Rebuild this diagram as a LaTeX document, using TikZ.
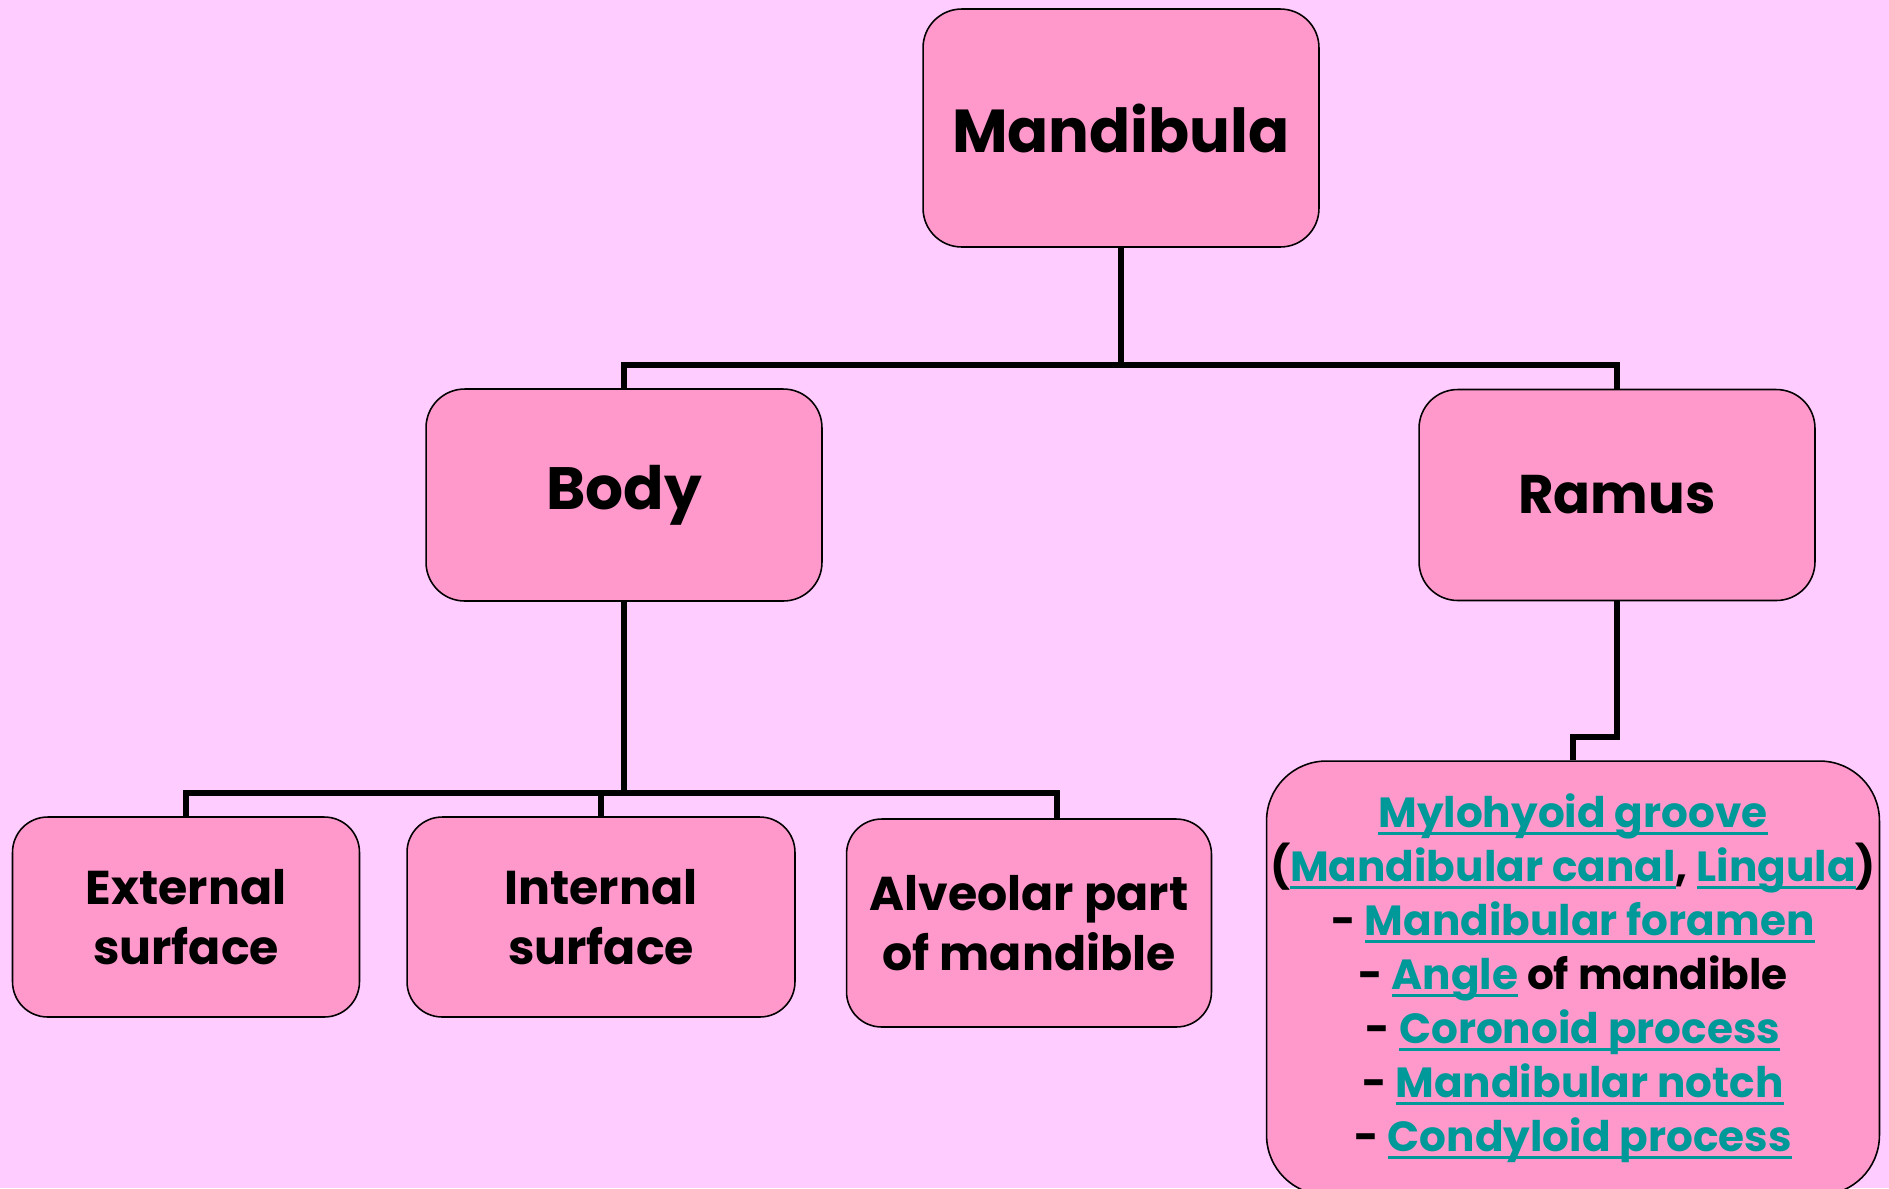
\documentclass[tikz,border=0pt]{standalone}
\usepackage{fontspec}
\setmainfont{Poppins}
\usetikzlibrary{calc}

\definecolor{hintergrund}{HTML}{FFCCFF}
\definecolor{kastenrosa}{HTML}{FF99CC}
\definecolor{linkgruen}{HTML}{009999}
\newsavebox{\lnkbox}
\newcommand{\lnk}[1]{\textcolor{linkgruen}{\sbox{\lnkbox}{#1}%
  \rlap{\rule[-4.5pt]{\wd\lnkbox}{1.8pt}}\usebox{\lnkbox}}}

\tikzset{
  kasten/.style={draw=black, line width=0.9pt, fill=kastenrosa, inner sep=0pt,
    align=center, font=\bfseries, rounded corners=22pt},
  verbinder/.style={draw=black, line width=3.2pt}
}

\begin{document}
\begin{tikzpicture}[x=0.02cm, y=-0.02cm]

    % 1. Hintergrund
    \fill[hintergrund] (0,0) rectangle (1889,1188);
    \useasboundingbox (0,0) rectangle (1889,1188);

    % 2. Kaesten
    \node[kasten, minimum width=7.92cm, minimum height=4.76cm,
          font=\bfseries\fontsize{34.5}{40}\selectfont] (mand) at (1121,128) {Mandibula};
    \node[kasten, minimum width=7.92cm, minimum height=4.24cm,
          font=\bfseries\fontsize{34}{40}\selectfont] (body) at (624,495) {Body};
    \node[kasten, minimum width=7.92cm, minimum height=4.22cm,
          font=\bfseries\fontsize{31}{40}\selectfont] (ramus) at (1617,495) {Ramus};

    \node[kasten, minimum width=6.94cm, minimum height=4.0cm, rounded corners=20pt,
          font=\bfseries\fontsize{27}{34}\selectfont] (ext) at (186,917) {External\\surface};
    \node[kasten, minimum width=7.76cm, minimum height=4.0cm, rounded corners=20pt,
          font=\bfseries\fontsize{27}{34}\selectfont] (int) at (601,917) {Internal\\surface};
    \node[kasten, minimum width=7.3cm, minimum height=4.16cm, rounded corners=20pt,
          font=\bfseries\fontsize{27}{34}\selectfont] (alv) at (1029,923) {Alveolar part\\of mandible};

    \node[kasten, minimum width=12.26cm, minimum height=8.68cm, rounded corners=34pt,
          font=\bfseries\fontsize{24}{30.7}\selectfont] (liste) at (1573,978)
      {\lnk{Mylohyoid groove}\\
       (\lnk{Mandibular canal}, \lnk{Lingula})\\
       - \lnk{Mandibular foramen}\\
       - \lnk{Angle} of mandible\\
       - \lnk{Coronoid process}\\
       - \lnk{Mandibular notch}\\
       - \lnk{Condyloid process}};

    % 3. Verbindungslinien
    \coordinate (j1) at (1121,365);
    \coordinate (j2) at (624,793);
    \coordinate (j3) at (1617,737);
    \coordinate (alvtop) at ($(alv.north)+(28,0)$);

    \draw[verbinder] (mand) -- (j1);
    \draw[verbinder] (body) |- (j1) -| (ramus);

    \draw[verbinder] (body) -- (j2);
    \draw[verbinder] (ext) |- (j2) -| (alvtop);
    \draw[verbinder] (int.north) -- (int.north |- j2);

    \draw[verbinder] (ramus) -- (j3) -| (liste);

\end{tikzpicture}
\end{document}
